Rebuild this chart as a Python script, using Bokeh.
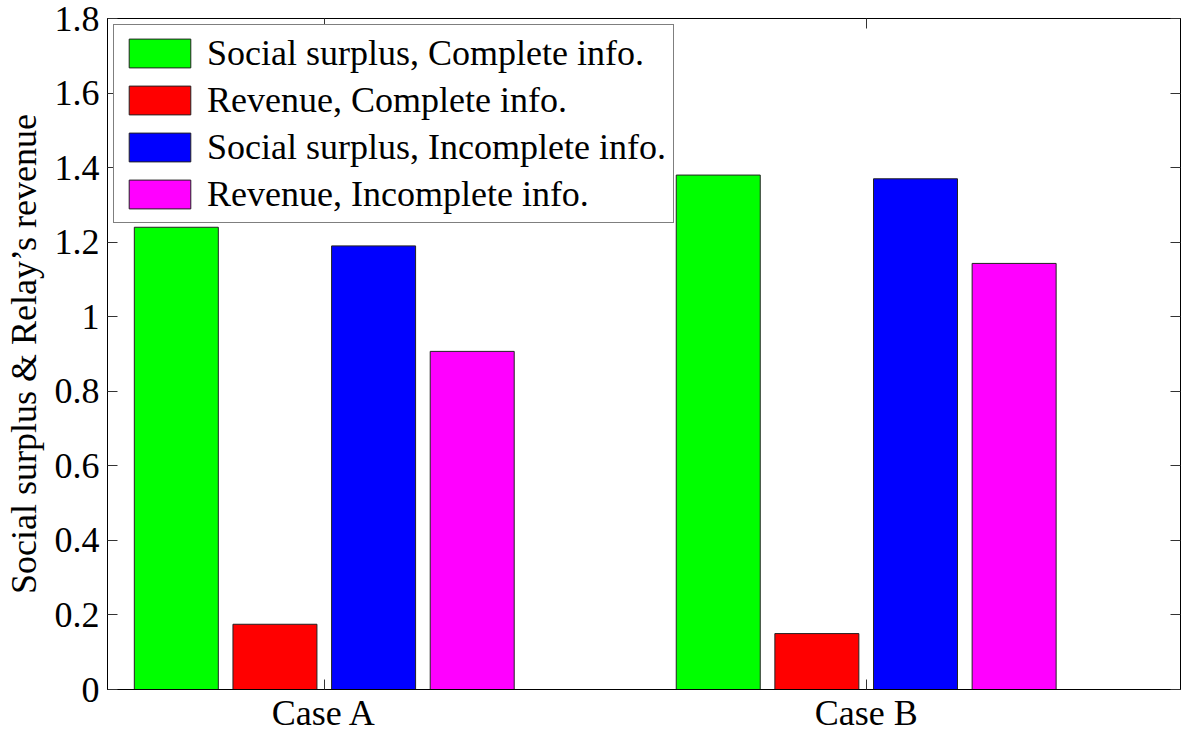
from bokeh.plotting import figure
from bokeh.models import Range1d, FixedTicker, LinearAxis, CustomJSTickFormatter, Legend
from bokeh.embed import file_html
from bokeh.resources import INLINE
import numpy as np

cases = ["Case A", "Case B"]
series_names = [
    "Social surplus, Complete info.",
    "Revenue, Complete info.",
    "Social surplus, Incomplete info.",
    "Revenue, Incomplete info.",
]
social_complete = [1.24, 1.38]
revenue_complete = [0.175, 0.15]
social_incomplete = [1.19, 1.37]
revenue_incomplete = [0.907, 1.143]
colors = ["#00ff00", "#ff0000", "#0000ff", "#ff00ff"]
y_ticks = [0, 0.2, 0.4, 0.6, 0.8, 1, 1.2, 1.4, 1.6, 1.8]
y_tick_labels = ["0", "0.2", "0.4", "0.6", "0.8", "1", "1.2", "1.4", "1.6", "1.8"]

FONT = "Liberation Serif"
FS = "36px"

p = figure(width=1184, height=735, output_backend="svg", toolbar_location=None,
           x_range=Range1d(0.6, 2.58), y_range=Range1d(0, 1.8),
           min_border_left=96, min_border_right=4, min_border_top=18, min_border_bottom=30)
p.grid.visible = False
p.outline_line_color = "black"
p.outline_line_width = 1
p.background_fill_color = "white"
p.border_fill_color = "white"

series = [social_complete, revenue_complete, social_incomplete, revenue_incomplete]
offsets = [-0.273, -0.091, 0.091, 0.273]
base = np.arange(1, len(cases) + 1)
items = []
for vals, off, col, name in zip(series, offsets, colors, series_names):
    r = p.vbar(x=base + off, top=vals, width=0.155, fill_color=col,
               line_color="#222222", line_width=1)
    items.append((name, [r]))

xa = p.xaxis[0]
xa.ticker = FixedTicker(ticks=[1, 2])
xa.major_label_overrides = {1: cases[0], 2: cases[1]}
ya = p.yaxis[0]
ya.ticker = FixedTicker(ticks=y_ticks)
ya.major_label_overrides = {t: l for t, l in zip(y_ticks, y_tick_labels)}
ya.axis_label = "Social surplus & Relay\u2019s revenue"
for ax in (xa, ya):
    ax.major_tick_in = 10
    ax.major_tick_out = 0
    ax.minor_tick_in = 0
    ax.minor_tick_out = 0
    ax.major_label_text_font = FONT
    ax.major_label_text_font_size = FS
    ax.major_label_text_color = "black"
    ax.axis_line_color = "black"
    ax.major_tick_line_color = "#333333"
    ax.axis_label_text_font = FONT
    ax.axis_label_text_font_size = "36px"
    ax.axis_label_text_font_style = "normal"
    ax.axis_label_text_color = "black"
xa.major_label_standoff = 3
ya.major_label_standoff = 8
ya.axis_label_standoff = 8

blank = CustomJSTickFormatter(code="return ''")
ra = LinearAxis(ticker=FixedTicker(ticks=y_ticks), formatter=blank,
                major_tick_in=10, major_tick_out=0, minor_tick_in=0, minor_tick_out=0,
                major_label_text_font_size="1px", major_label_standoff=0,
                axis_line_color="black", major_tick_line_color="#333333")
p.add_layout(ra, "right")
ta = LinearAxis(ticker=FixedTicker(ticks=[1, 2]), formatter=blank,
                major_tick_in=10, major_tick_out=0, minor_tick_in=0, minor_tick_out=0,
                major_label_text_font_size="1px", major_label_standoff=0,
                axis_line_color="black", major_tick_line_color="#333333")
p.add_layout(ta, "above")

legend = Legend(items=items, location="top_left")
legend.margin = 6
legend.padding = 7
legend.spacing = 5
legend.glyph_width = 77
legend.glyph_height = 36
legend.label_standoff = 9
legend.label_text_font = FONT
legend.label_text_font_size = FS
legend.label_text_color = "black"
legend.label_height = 36
legend.border_line_color = "black"
legend.border_line_width = 1
legend.background_fill_color = "white"
legend.background_fill_alpha = 1
p.add_layout(legend, "center")

open("out.html", "w").write(file_html(p, INLINE))
